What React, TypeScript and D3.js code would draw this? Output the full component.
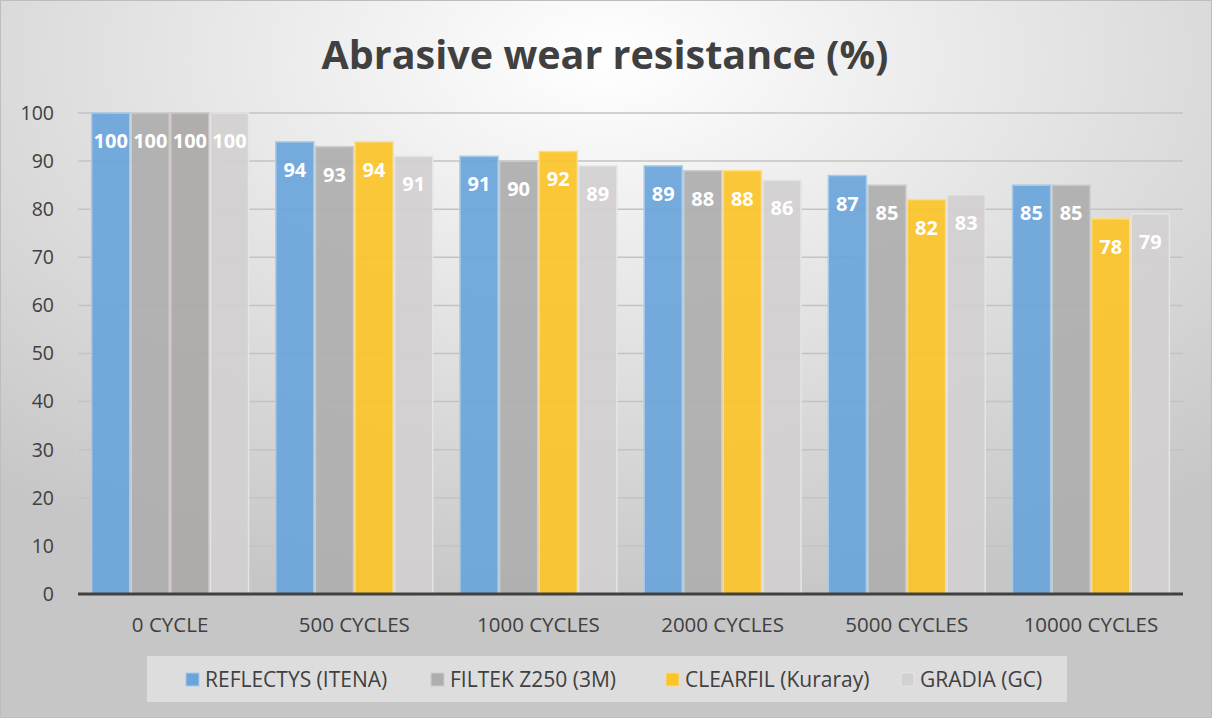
import React from "react";
import * as d3 from "d3";

const categories = ["0 CYCLE", "500 CYCLES", "1000 CYCLES", "2000 CYCLES", "5000 CYCLES", "10000 CYCLES"];
const seriesNames = ["REFLECTYS (ITENA)", "FILTEK Z250 (3M)", "CLEARFIL (Kuraray)", "GRADIA (GC)"];
const reflectys = [100, 94, 91, 89, 87, 85];
const filtek = [100, 93, 90, 88, 85, 85];
const clearfil = [100, 94, 92, 88, 82, 78];
const gradia = [100, 91, 89, 86, 83, 79];
const yTicks = [0, 10, 20, 30, 40, 50, 60, 70, 80, 90, 100];

const seriesValues = [reflectys, filtek, clearfil, gradia];
const fills = ["#6AA5DA", "#AEAEAE", "#FBC42A", "#D2D0D0"];
const strokes = ["#A8CBEA", "#CDCDCD", "#FDDC86", "#E6E5E5"];
// per-point override (0 CYCLE of CLEARFIL drawn grey in the reference)
const pointFill = (s: number, c: number) => (s === 2 && c === 0 ? "#ADA9A8" : fills[s]);
const pointStroke = (s: number, c: number) => (s === 2 && c === 0 ? "#CBC8C7" : strokes[s]);

const W = 1212;
const H = 718;
const FONT = "'Open Sans', sans-serif";

export default function App() {
  const left = 78, right = 1183, top = 113, bottom = 594;
  const x0 = d3.scaleBand<string>().domain(categories).range([left, right]).paddingInner(0.14).paddingOuter(0.07);
  const x1 = d3.scaleBand<string>().domain(seriesNames).range([0, x0.bandwidth()]).padding(0);
  const y = d3.scaleLinear().domain([0, 100]).range([bottom, top]);

  const legendX = [186, 431, 666, 901];

  return (
    <svg width={W} height={H} style={{ position: "absolute", left: 0, top: 0 }} fontFamily={FONT}>
      <defs>
        <radialGradient id="bg" cx="50%" cy="8%" r="78%" fx="50%" fy="8%">
          <stop offset="0%" stopColor="#ffffff" />
          <stop offset="100%" stopColor="#c6c6c6" />
        </radialGradient>
      </defs>
      <rect x={0.5} y={0.5} width={W - 1} height={H - 1} fill="url(#bg)" stroke="#bdbdbd" />
      <text x={605} y={69} textAnchor="middle" fontSize={39.5} fontWeight="bold" fill="#404040">
        Abrasive wear resistance (%)
      </text>

      {yTicks.map((t) => (
        <g key={t}>
          {t > 0 && <line x1={left} x2={right} y1={y(t)} y2={y(t)} stroke="#c3c3c3" strokeWidth={1.5} />}
          <text x={54} y={y(t)} dy="0.35em" textAnchor="end" fontSize={19.5} fill="#404040">
            {t}
          </text>
        </g>
      ))}

      {categories.map((c, ci) => (
        <g key={c} transform={`translate(${x0(c)},0)`}>
          {seriesNames.map((s, si) => {
            const v = seriesValues[si][ci];
            const bx = x1(s)!;
            const bw = x1.bandwidth();
            return (
              <g key={s}>
                <rect
                  x={bx + 0.75}
                  y={y(v)}
                  width={bw - 1.5}
                  height={bottom - y(v)}
                  fill={pointFill(si, ci)}
                  fillOpacity={0.93}
                  stroke={pointStroke(si, ci)}
                  strokeWidth={1.5}
                />
                <text
                  x={bx + bw / 2}
                  y={y(v) + 28}
                  dy="0.35em"
                  textAnchor="middle"
                  fontSize={20}
                  fontWeight="bold"
                  fill="#ffffff"
                >
                  {v}
                </text>
              </g>
            );
          })}
          <text x={x0.bandwidth() / 2} y={625} dy="0.35em" textAnchor="middle" fontSize={20.5} fill="#404040">
            {c}
          </text>
        </g>
      ))}

      <line x1={left} x2={right} y1={bottom} y2={bottom} stroke="#404040" strokeWidth={3} />

      <rect x={147} y={656} width={920} height={46} fill="#e0e0e0" fillOpacity={0.85} />
      {seriesNames.map((s, i) => (
        <g key={s}>
          <rect x={legendX[i]} y={673} width={13} height={13} fill={fills[i]} stroke={strokes[i]} strokeWidth={1} />
          <text x={legendX[i] + 19} y={679.5} dy="0.35em" fontSize={21} fill="#404040">
            {s}
          </text>
        </g>
      ))}
    </svg>
  );
}
